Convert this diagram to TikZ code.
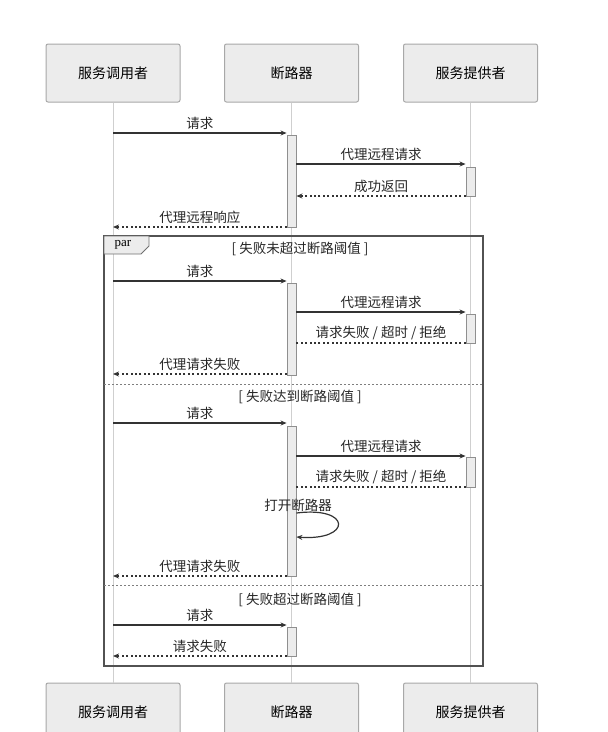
\documentclass[tikz,border=0pt]{standalone}
\usepackage{fontspec}
\setmainfont{Noto Sans CJK SC}
\newfontfamily\tagfont{Liberation Serif}
\usepackage{tikz}
\usetikzlibrary{arrows.meta}
\definecolor{boxfill}{HTML}{ECECEC}
\definecolor{boxline}{HTML}{A8A8A8}
\definecolor{lifeline}{HTML}{CFCFCF}
\definecolor{msgline}{HTML}{333333}

\begin{document}
\begin{tikzpicture}[x=1pt, y=-1pt,
    actor/.style = {draw=boxline, fill=boxfill, rounded corners=2pt, line width=1pt,
                    minimum width=134pt, minimum height=58pt, font=\fontsize{14}{16}\selectfont},
    act/.style = {draw=boxline!85!black, fill=boxfill, line width=0.9pt, inner sep=0pt,
                  minimum width=9pt, anchor=north},
    life/.style = {draw=lifeline, line width=0.9pt},
    call/.style = {draw=msgline, line width=1.2pt, -{Stealth[length=6pt,width=5pt]}},
    reply/.style = {draw=msgline, line width=1.2pt, dash pattern=on 2pt off 2.4pt},
    back/.style = {reply, -{Stealth[length=6pt,width=5pt]}},
    lbl/.style = {font=\fontsize{13.5}{15}\selectfont, text=black!85, above, inner sep=2.5pt},
    guard/.style = {font=\fontsize{13.5}{15}\selectfont, text=black!85},
    sep/.style = {draw=boxline!75!black, line width=1pt, dash pattern=on 2pt off 2pt}]

    \useasboundingbox (0,0) rectangle (608,732);
    \clip (0,0) rectangle (608,732);

    % participants
    \node[actor] (U) at (113,73) {服务调用者};
    \node[actor] (B) at (291.5,73) {断路器};
    \node[actor] (P) at (470.5,73) {服务提供者};
    \node[actor] (U2) at (113,712) {服务调用者};
    \node[actor] (B2) at (291.5,712) {断路器};
    \node[actor] (P2) at (470.5,712) {服务提供者};

    \draw[life] (U) -- (U2);
    \draw[life] (B) -- (B2);
    \draw[life] (P) -- (P2);

    % activations
    \node[act, minimum height=92pt] (a1) at (291.5,135) {};
    \node[act, minimum height=29pt] (p1) at (470.5,167) {};
    \node[act, minimum height=92pt] (a2) at (291.5,283) {};
    \node[act, minimum height=29pt] (p2) at (470.5,314) {};
    \node[act, minimum height=150pt] (a3) at (291.5,426) {};
    \node[act, minimum height=30pt] (p3) at (470.5,457) {};
    \node[act, minimum height=29pt] (a4) at (291.5,627) {};

    % normal call
    \draw[call] (U.south |- 0,133) -- node[lbl] {请求} (a1.west |- 0,133);
    \draw[call] (a1.east |- 0,164) -- node[lbl] {代理远程请求} (p1.west |- 0,164);
    \draw[back] (p1.west |- 0,196) -- node[lbl] {成功返回} (a1.east |- 0,196);
    \draw[back] (a1.west |- 0,227) -- node[lbl] {代理远程响应} (U.south |- 0,227);

    % par frame
    \draw[draw=msgline!85, line width=1.2pt] (104,236) rectangle (483,666);
    \draw[draw=msgline!70, fill=boxfill, line width=0.9pt]
        (104,236) -- (149,236) -- (149,246) -- (141,254) -- (104,254) -- cycle;
    \node[font=\tagfont\fontsize{13}{14}\selectfont] (tag) at (123,245) {par};
    \node[guard] (g1) at (300,249) {[ 失败未超过断路阈值 ]};

    \draw[call] (U.south |- 0,281) -- node[lbl] {请求} (a2.west |- 0,281);
    \draw[call] (a2.east |- 0,312) -- node[lbl] {代理远程请求} (p2.west |- 0,312);
    \draw[reply] (p2.west |- 0,343) -- node[lbl] {请求失败 / 超时 / 拒绝} (a2.east |- 0,343);
    \draw[back] (a2.west |- 0,374) -- node[lbl] {代理请求失败} (U.south |- 0,374);

    \draw[sep] (104,384) -- (483,384);
    \node[guard] (g2) at (300,397) {[ 失败达到断路阈值 ]};

    \draw[call] (U.south |- 0,423) -- node[lbl] {请求} (a3.west |- 0,423);
    \draw[call] (a3.east |- 0,456) -- node[lbl] {代理远程请求} (p3.west |- 0,456);
    \draw[reply] (p3.west |- 0,487) -- node[lbl] {请求失败 / 超时 / 拒绝} (a3.east |- 0,487);
    \node[guard] (open) at (298,505) {打开断路器};
    \draw[call] (a3.east |- 0,513) .. controls (352,506) and (352,541) .. (a3.east |- 0,537);
    \draw[back] (a3.west |- 0,576) -- node[lbl] {代理请求失败} (U.south |- 0,576);

    \draw[sep] (104,585) -- (483,585);
    \node[guard] (g3) at (300,600) {[ 失败超过断路阈值 ]};

    \draw[call] (U.south |- 0,625) -- node[lbl] {请求} (a4.west |- 0,625);
    \draw[back] (a4.west |- 0,656) -- node[lbl] {请求失败} (U.south |- 0,656);
\end{tikzpicture}
\end{document}
